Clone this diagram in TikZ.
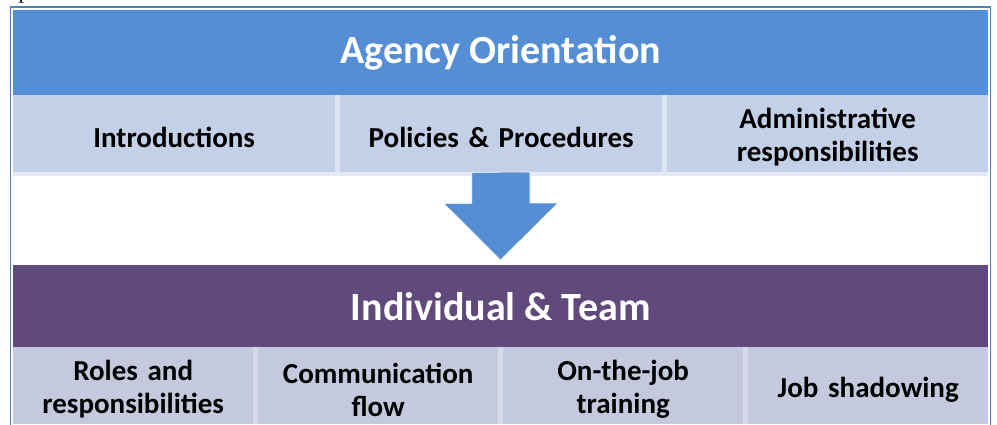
\documentclass[tikz,border=0pt]{standalone}
\usepackage{fontspec}
\setsansfont{Carlito}
\setmainfont{Liberation Serif}
\usetikzlibrary{positioning, calc}
\definecolor{hdblue}{HTML}{558ED5}
\definecolor{cellblue}{HTML}{C4D0E7}
\definecolor{hdpurple}{HTML}{604A7B}
\definecolor{cellgrey}{HTML}{C5C9DD}
\definecolor{framblue}{HTML}{4F81BD}

\begin{document}
\begin{tikzpicture}[x=1pt, y=1pt,
  head/.style={fill=#1, text=white, font=\sffamily\bfseries\fontsize{40}{44}\selectfont,
               minimum width=975, inner sep=0, anchor=north west},
  cell/.style={fill=#1, font=\sffamily\bfseries\fontsize{29}{33}\selectfont,
               align=center, minimum height=77, inner sep=0, anchor=north west,
               execute at begin node={\rule{0pt}{28pt}}},
  topcell/.style={cell=cellblue, text width=310, minimum width=322},
  botcell/.style={cell=cellgrey, text width=236, minimum width=240},
  bigarrow/.style={fill=hdblue, draw=white, line width=0.6}
]
\useasboundingbox (0,0) rectangle (997,424);

% stray letter above the frame
\begin{scope}
  \clip (0,419) rectangle (997,424);
  \node[font=\fontsize{22}{24}\selectfont, inner sep=0] (pchar) at (24,428) {p};
\end{scope}

% outer frame
\draw[framblue, line width=1.5] (10.5,-2) -- (10.5,417) -- (990.5,417) -- (990.5,-2);

% first block
\node[head=hdblue, minimum height=85] (orient) at (13,414) {Agency Orientation};
\node[topcell] (intro)  at (13,329)  {Introductions};
\node[topcell] (policy) at (340,329) {Policies \& Procedures};
\node[topcell, minimum width=321] (admin) at (667,329) {Administrative\\responsibilities};
\fill[cellblue!45] (intro.south west) rectangle ($(admin.south east)+(0,-4)$);

% block arrow
\coordinate (tip) at ($(500.5,159)+(0,5)$);
\draw[bigarrow] ($(policy.south)+(-29.5,0)$) -- ++(0,-31) -- ++(-28,0) -- (tip)
  -- ++(57.5,57) -- ++(-28,0) -- ++(0,31) -- cycle;

% second block
\node[head=hdpurple, minimum height=82] (team) at (13,159) {Individual \& Team};
\node[botcell] (roles)  at (13,77)  {Roles and\\responsibilities};
\node[botcell] (comm)   at (258,77) {Communication\\flow};
\node[botcell] (ojt)    at (503,77) {On-the-job\\training};
\node[botcell] (shadow) at (748,77) {Job shadowing};

% light gaps between cells
\foreach \a/\b in {intro/policy, policy/admin}
  \fill[cellblue!60] (\a.north east) rectangle (\b.south west);
\foreach \a/\b in {roles/comm, comm/ojt, ojt/shadow}
  \fill[cellgrey!70] (\a.north east) rectangle (\b.south west);
\end{tikzpicture}
\end{document}
